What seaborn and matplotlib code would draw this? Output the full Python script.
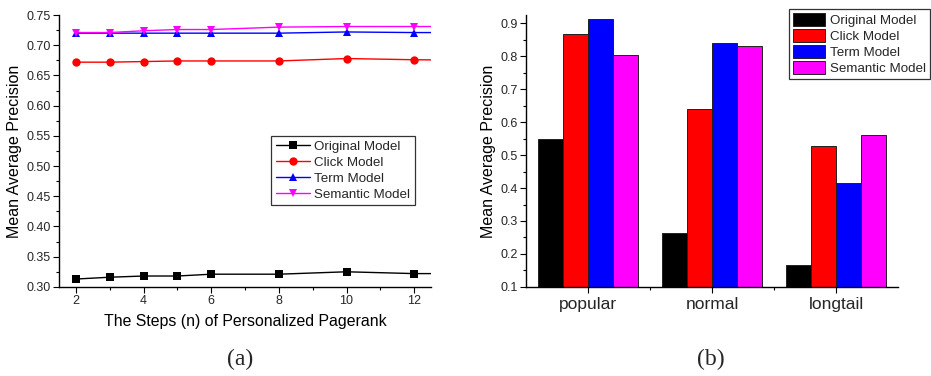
import seaborn as sns
import matplotlib.pyplot as plt
import matplotlib.patches as mpatches
from matplotlib.ticker import MultipleLocator, FixedLocator
import pandas as pd

sns.set_theme(style='white')
plt.rcParams['font.family'] = ['Liberation Sans', 'DejaVu Sans']
plt.rcParams['axes.unicode_minus'] = False

models = ['Original Model', 'Click Model', 'Term Model', 'Semantic Model']
colors = ['#000000', '#ff0000', '#0000ff', '#ff00ff']
markers = ['s', 'o', '^', 'v']

# (a) MAP vs number of steps (last point lies past the visible axis range)
steps = [2, 3, 4, 5, 6, 8, 10, 12, 14]
map_original = [0.313, 0.316, 0.318, 0.318, 0.321, 0.321, 0.325, 0.322, 0.322]
map_click    = [0.672, 0.672, 0.673, 0.674, 0.674, 0.674, 0.678, 0.676, 0.675]
map_term     = [0.720, 0.720, 0.720, 0.720, 0.720, 0.720, 0.722, 0.721, 0.721]
map_semantic = [0.721, 0.721, 0.724, 0.726, 0.726, 0.730, 0.731, 0.731, 0.731]

# (b) MAP by query group
groups = ['popular', 'normal', 'longtail']
bar_original = [0.550, 0.265, 0.165]
bar_click    = [0.868, 0.640, 0.527]
bar_term     = [0.913, 0.840, 0.415]
bar_semantic = [0.805, 0.830, 0.560]

rows = []
for m, vals in zip(models, [map_original, map_click, map_term, map_semantic]):
    for s, v in zip(steps, vals):
        rows.append({'Steps': s, 'MAP': v, 'Model': m})
df_line = pd.DataFrame(rows)

rows = []
for m, vals in zip(models, [bar_original, bar_click, bar_term, bar_semantic]):
    for g, v in zip(groups, vals):
        rows.append({'Group': g, 'MAP': v, 'Model': m})
df_bar = pd.DataFrame(rows)

fig = plt.figure(figsize=(9.31, 3.76), dpi=100)
ax1 = fig.add_axes([0.0634, 0.237, 0.3996, 0.723])
ax2 = fig.add_axes([0.565, 0.237, 0.3996, 0.723])

for ax in (ax1, ax2):
    for sp in ('top', 'right'):
        ax.spines[sp].set_visible(False)
    for sp in ('left', 'bottom'):
        ax.spines[sp].set_color('black')
        ax.spines[sp].set_linewidth(1.0)
    ax.tick_params(which='both', direction='out', color='black', labelsize=9,
                   bottom=True, left=True, pad=2)
    ax.tick_params(which='major', length=4, width=0.8)
    ax.tick_params(which='minor', length=2.5, width=0.8)

# left: line chart
sns.lineplot(data=df_line, x='Steps', y='MAP', hue='Model', style='Model',
             hue_order=models, style_order=models, palette=colors,
             markers=markers, dashes=False, markersize=6, lw=1.0,
             markeredgewidth=0, ax=ax1, legend=False)
ax1.set_xlim(1.5, 12.5)
ax1.set_ylim(0.30, 0.75)
ax1.xaxis.set_major_locator(MultipleLocator(2))
ax1.xaxis.set_minor_locator(MultipleLocator(1))
ax1.yaxis.set_major_locator(MultipleLocator(0.05))
ax1.yaxis.set_minor_locator(MultipleLocator(0.025))
ax1.yaxis.set_major_formatter(plt.FormatStrFormatter('%.2f'))
ax1.set_xlabel('The Steps (n) of Personalized Pagerank', fontsize=11.4, color='black', labelpad=5)
ax1.set_ylabel('Mean Average Precision', fontsize=11.5, color='black', labelpad=3)
handles = [plt.Line2D([], [], color=c, marker=mk, lw=1.0, markersize=6, markeredgewidth=0)
           for c, mk in zip(colors, markers)]
leg1 = ax1.legend(handles, models, loc='upper right', bbox_to_anchor=(0.957, 0.555),
                  borderaxespad=0, fontsize=9.6, frameon=True, fancybox=False,
                  handlelength=2.6, labelspacing=0.27, borderpad=0.35, handletextpad=0.3)
leg1.get_frame().set_edgecolor('black')
leg1.get_frame().set_linewidth(0.9)

# right: grouped bars
sns.barplot(data=df_bar, x='Group', y='MAP', hue='Model', hue_order=models,
            palette=colors, errorbar=None, width=0.8, edgecolor='#222222',
            linewidth=0.7, saturation=1, ax=ax2, legend=False)
ax2.set_xlim(-0.5, 2.5)
ax2.set_ylim(0.1, 0.925)
ax2.yaxis.set_major_locator(MultipleLocator(0.1))
ax2.yaxis.set_minor_locator(MultipleLocator(0.05))
ax2.yaxis.set_major_formatter(plt.FormatStrFormatter('%.1f'))
ax2.xaxis.set_minor_locator(FixedLocator([0.5, 1.5]))
ax2.tick_params(axis='x', which='major', labelsize=12.5, pad=3)
ax2.set_xlabel('')
ax2.set_ylabel('Mean Average Precision', fontsize=11.5, color='black', labelpad=3)
patches = [mpatches.Patch(facecolor=c, edgecolor='#222222', lw=0.7) for c in colors]
leg2 = fig.legend(patches, models, loc='upper right', bbox_to_anchor=(0.999, 0.975),
                  fontsize=9.6, frameon=True, fancybox=False, handlelength=2.4,
                  handleheight=1.1, labelspacing=0.15, borderpad=0.3, handletextpad=0.35,
                  borderaxespad=0)
leg2.get_frame().set_edgecolor('black')
leg2.get_frame().set_linewidth(0.9)

fig.text(0.258, 0.03, '(a)', ha='center', fontsize=17, family=['Liberation Serif', 'DejaVu Serif'])
fig.text(0.763, 0.03, '(b)', ha='center', fontsize=17, family=['Liberation Serif', 'DejaVu Serif'])

plt.savefig('out.png', dpi=100)
